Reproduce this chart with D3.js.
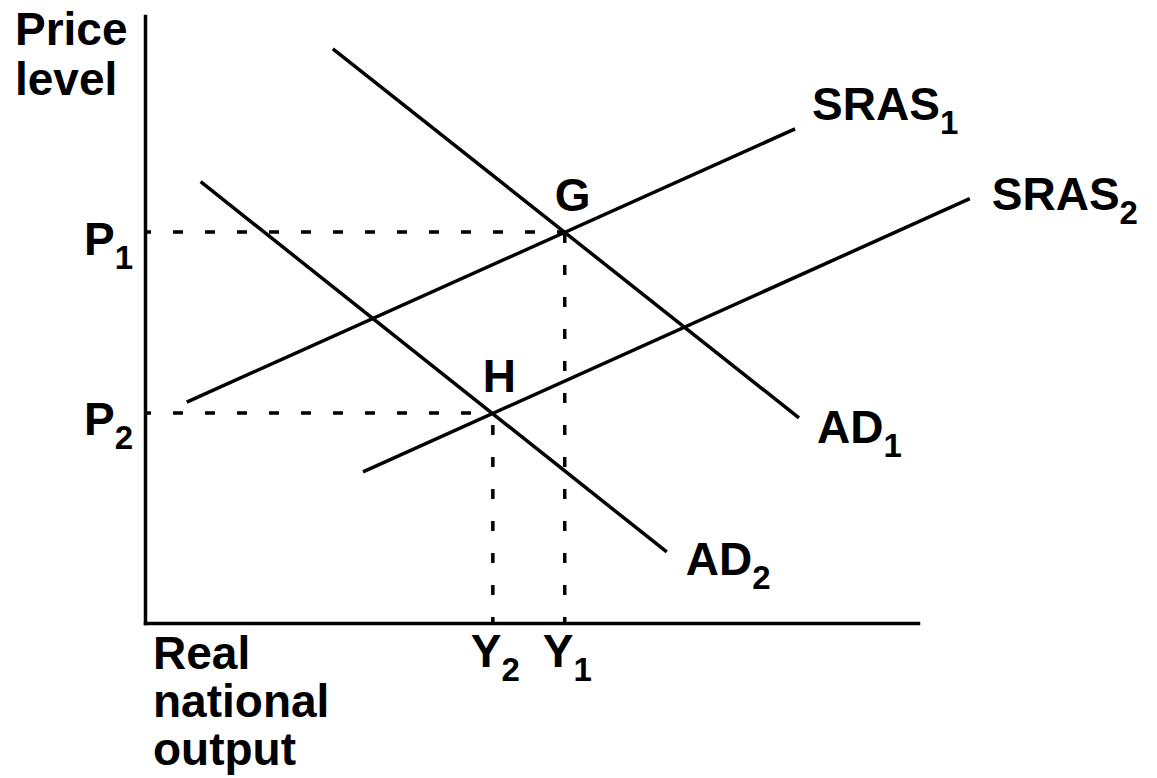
<!DOCTYPE html>
<html>
<head>
<meta charset="utf-8">
<style>
body { margin: 0; background: #fff; }
svg { display: block; font-family: 'Liberation Sans', Arial, sans-serif; font-weight: bold; }
.axis .domain { stroke: #000; stroke-width: 3.5; stroke-linecap: square; }
.curve { fill: none; stroke: #000; stroke-width: 3.5; }
.guide { fill: none; stroke: #000; stroke-width: 3.5; stroke-dasharray: 10,22; stroke-dashoffset: 4; }
</style>
</head>
<body>
<svg width="1157" height="778"></svg>
<script src="https://cdn.jsdelivr.net/npm/d3@7/dist/d3.min.js"></script>
<script>
// curves: name, subscript, start and end point (output, price level on a 0-100 scale)
var curveNames = ["AD", "AD", "SRAS", "SRAS"];
var curveSubs = ["1", "2", "1", "2"];
var curveStart = [[24.3, 94.6], [7.2, 72.7], [5.4, 36.4], [28.2, 24.9]];
var curveEnd = [[84.6, 33.8], [67.5, 11.7], [84.1, 81.4], [106.7, 69.9]];

// equilibrium points G and H
var pointNames = ["G", "H"];
var priceLevels = [64.4, 34.6];   // P1, P2
var outputLevels = [54.3, 45.0];  // Y1, Y2
var priceLabels = [["P", "1"], ["P", "2"]];
var outputLabels = [["Y", "1"], ["Y", "2"]];

var yTitle = ["Price", "level"];
var xTitle = ["Real", "national", "output"];

var svg = d3.select("svg"),
    x = d3.scaleLinear().domain([0, 100]).range([145, 918]),
    y = d3.scaleLinear().domain([0, 100]).range([623, 16]);

var mainSize = 46, subSize = 33, subShift = 14;

// text with a subscript
function subLabel(sel, main, sub) {
  sel.text(null);
  sel.append("tspan").text(main);
  sel.append("tspan").attr("font-size", subSize).attr("dy", subShift).text(sub);
}

// dashed guides from the axes to G and H
var guides = svg.append("g");
priceLevels.forEach(function(p, i) {
  guides.append("line").attr("class", "guide")
      .attr("x1", x(0)).attr("y1", y(p))
      .attr("x2", x(outputLevels[i])).attr("y2", y(p));
  guides.append("line").attr("class", "guide")
      .attr("x1", x(outputLevels[i])).attr("y1", y(0))
      .attr("x2", x(outputLevels[i])).attr("y2", y(p));
});

// axes
var gx = svg.append("g")
    .attr("class", "axis")
    .attr("transform", "translate(0," + y(0) + ")")
    .call(d3.axisBottom(x).tickValues(outputLevels).tickSize(0).tickSizeOuter(0).tickFormat(""));
gx.attr("font-size", mainSize).attr("font-family", null);
gx.selectAll(".tick text")
    .attr("y", 44).attr("dy", null).attr("dx", 2).attr("fill", "#000")
    .each(function(d, i) { subLabel(d3.select(this), outputLabels[i][0], outputLabels[i][1]); });

var gy = svg.append("g")
    .attr("class", "axis")
    .attr("transform", "translate(" + x(0) + ",0)")
    .call(d3.axisLeft(y).tickValues(priceLevels).tickSize(0).tickSizeOuter(0).tickFormat(""));
gy.attr("font-size", mainSize).attr("font-family", null);
gy.selectAll(".tick text")
    .attr("x", -12).attr("y", 22).attr("dy", null).attr("fill", "#000")
    .each(function(d, i) { subLabel(d3.select(this), priceLabels[i][0], priceLabels[i][1]); });

// AD and SRAS curves
var line = d3.line()
    .x(function(d) { return x(d[0]); })
    .y(function(d) { return y(d[1]); });

svg.append("g")
  .selectAll("path")
  .data(curveNames.map(function(n, i) { return [curveStart[i], curveEnd[i]]; }))
  .enter().append("path")
    .attr("class", "curve")
    .attr("d", line);

// curve labels, placed off the end of each curve
var labelOffsets = [[18, 25], [19, 23], [17, -9], [22, 11]];
svg.append("g")
    .attr("font-size", mainSize)
  .selectAll("text")
  .data(curveNames)
  .enter().append("text")
    .attr("x", function(d, i) { return x(curveEnd[i][0]) + labelOffsets[i][0]; })
    .attr("y", function(d, i) { return y(curveEnd[i][1]) + labelOffsets[i][1]; })
    .each(function(d, i) { subLabel(d3.select(this), d, curveSubs[i]); });

// point labels
svg.append("g")
    .attr("font-size", mainSize)
  .selectAll("text")
  .data(pointNames)
  .enter().append("text")
    .attr("x", function(d, i) { return x(outputLevels[i]) - 10; })
    .attr("y", function(d, i) { return y(priceLevels[i]) - 21; })
    .text(function(d) { return d; });

// axis titles
svg.append("g")
    .attr("font-size", mainSize)
  .selectAll("text")
  .data(yTitle)
  .enter().append("text")
    .attr("x", 15)
    .attr("y", function(d, i) { return 45 + i * 50; })
    .text(function(d) { return d; });

svg.append("g")
    .attr("font-size", mainSize)
  .selectAll("text")
  .data(xTitle)
  .enter().append("text")
    .attr("x", 153)
    .attr("y", function(d, i) { return 669 + i * 48; })
    .text(function(d) { return d; });
</script>
</body>
</html>
